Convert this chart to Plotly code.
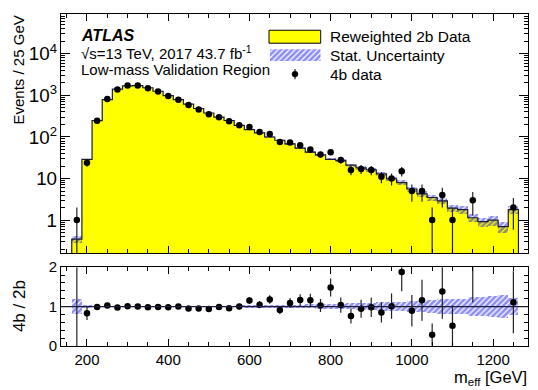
import numpy as np
import plotly.graph_objects as go

# m_eff bins (GeV), 25 GeV wide
bin_centers = [175, 200, 225, 250, 275, 300, 325, 350, 375, 400, 425, 450, 475, 500,
               525, 550, 575, 600, 625, 650, 675, 700, 725, 750, 775, 800, 825, 850,
               875, 900, 925, 950, 975, 1000, 1025, 1050, 1075, 1100, 1125, 1150, 1175,
               1200, 1225, 1250]
bin_width = 25

# observed 4b events per bin
data_4b = [1, 24, 245, 819, 1380, 1720, 1720, 1495, 1247, 972, 790, 587, 460, 354,
           297, 239, 191, 174, 132, 118, 76, 74, 63, 50, 38, 43, 28, 16,
           17, 16, 11, 10, 15, 5, 5, 1, 4, 1, 0, 3, 0,
           0, 0, 2]

# reweighted 2b prediction per bin
pred_2b = [0.35, 29, 247, 795, 1414, 1703, 1720, 1526, 1260, 992, 790, 618, 484, 377,
           300, 249, 191, 151, 126, 100, 83.5, 68, 54, 43, 37, 29, 27, 21,
           18, 16.3, 12.9, 9.9, 8.0, 5.6, 4.3, 3.5, 2.9, 1.95, 1.78, 1.14, 0.92,
           1.0, 0.70, 1.8]

# relative statistical uncertainty of the prediction
stat_rel = [0.20, 0.04, 0.02, 0.012, 0.010, 0.009, 0.009, 0.010, 0.011, 0.012, 0.013,
            0.015, 0.016, 0.018, 0.020, 0.022, 0.024, 0.027, 0.030, 0.033, 0.036,
            0.040, 0.045, 0.050, 0.055, 0.060, 0.065, 0.075, 0.085, 0.095, 0.105,
            0.115, 0.125, 0.14, 0.15, 0.16, 0.18, 0.19, 0.20, 0.23, 0.25, 0.27,
            0.30, 0.22]

x_range = [136, 1286]
logy_range = [-0.796, 4.958]
ratio_range = [0, 2]

FONT = "Liberation Sans, Arial, Helvetica, sans-serif"
YELLOW = "#ffff00"
HATCH = "#1e1ee6"
OUTLINE = "#1c1c3a"
BLACK = "#000000"

c = np.array(bin_centers, float)
d = np.array(data_4b, float)
p = np.array(pred_2b, float)
r = np.array(stat_rel, float)
lo_edges = c - bin_width / 2.0
hi_edge = c[-1] + bin_width / 2.0
floor = 10 ** (logy_range[0] - 2)

pattern = dict(shape="/", fgcolor=HATCH, bgcolor="rgba(0,0,0,0)", size=4,
               solidity=0.7, fillmode="overlay")

fig = go.Figure()

# ---------- upper panel ----------
fig.add_trace(go.Bar(x=c, y=p, width=bin_width, xaxis="x", yaxis="y",
                     marker=dict(color=YELLOW, line=dict(width=0)),
                     showlegend=False, hoverinfo="skip"))

fig.add_trace(go.Bar(x=c, y=2 * p * r, base=p * (1 - r), width=bin_width,
                     xaxis="x", yaxis="y",
                     marker=dict(color="rgba(0,0,0,0)", line=dict(width=0),
                                 pattern=pattern),
                     showlegend=False, hoverinfo="skip"))

step_x = [lo_edges[0]] + list(lo_edges) + [hi_edge, hi_edge]
step_y = [floor] + list(p) + [p[-1], floor]
fig.add_trace(go.Scatter(x=step_x, y=step_y, mode="lines", line_shape="hv",
                         line=dict(color=OUTLINE, width=1.2),
                         xaxis="x", yaxis="y", showlegend=False, hoverinfo="skip"))

has = d > 0
err = np.sqrt(d)
ex, ey = [], []
for xi, di, ei in zip(c[has], d[has], err[has]):
    ex += [xi, xi, None]
    ey += [max(di - ei, floor), di + ei, None]
fig.add_trace(go.Scatter(x=ex, y=ey, mode="lines", line=dict(color="#222222", width=1.2),
                         xaxis="x", yaxis="y", showlegend=False, hoverinfo="skip"))
fig.add_trace(go.Scatter(x=c[has], y=d[has], mode="markers",
                         marker=dict(color=BLACK, size=6.5),
                         xaxis="x", yaxis="y", showlegend=False))

# ---------- ratio panel ----------
fig.add_trace(go.Bar(x=c, y=2 * r, base=1 - r, width=bin_width, xaxis="x2", yaxis="y2",
                     marker=dict(color="rgba(0,0,0,0)", line=dict(width=0),
                                 pattern=pattern),
                     showlegend=False, hoverinfo="skip"))

ratio = d / p
rerr = err / p
rx, ry = [], []
for xi, ri, ei in zip(c[has], ratio[has], rerr[has]):
    rx += [xi, xi, None]
    ry += [ri - ei, ri + ei, None]
fig.add_trace(go.Scatter(x=rx, y=ry, mode="lines", line=dict(color="#222222", width=1.2),
                         xaxis="x2", yaxis="y2", showlegend=False, hoverinfo="skip"))
fig.add_trace(go.Scatter(x=c[has], y=ratio[has], mode="markers", cliponaxis=True,
                         marker=dict(color=BLACK, size=6.5),
                         xaxis="x2", yaxis="y2", showlegend=False))

# ---------- legend swatch (hatched box) ----------
fig.add_trace(go.Bar(x=[0.5], y=[1], width=1, xaxis="x3", yaxis="y3",
                     marker=dict(color="rgba(0,0,0,0)", line=dict(width=0),
                                 pattern=pattern),
                     showlegend=False, hoverinfo="skip"))

# pixel helpers for the 538x390 canvas
W, H = 538, 390
ML, MR, MT, MB = 61, 10, 5, 44
PW, PH = W - ML - MR, H - MT - MB


def px(xp):
    return (xp - ML) / PW


def py(yp):
    return (H - MB - yp) / PH


tickfont = dict(family=FONT, size=15, color=BLACK)
common_x = dict(range=x_range, ticks="inside", ticklen=7, tickwidth=1, tickcolor=BLACK,
                tick0=0, dtick=200, showline=True, linecolor=BLACK, linewidth=1,
                mirror="allticks", showgrid=False, zeroline=False,
                minor=dict(ticks="inside", ticklen=4, tickcolor=BLACK, dtick=50, tick0=0,
                           showgrid=False))

fig.update_layout(
    width=W, height=H, margin=dict(l=ML, r=MR, t=MT, b=MB),
    paper_bgcolor="white", plot_bgcolor="white",
    barmode="overlay", bargap=0, showlegend=False,
    font=dict(family=FONT, size=15, color=BLACK),
    xaxis=dict(domain=[0, 1], anchor="y", showticklabels=False, **common_x),
    yaxis=dict(domain=[py(250.7), 1], anchor="x", type="log", range=logy_range,
               dtick=1, exponentformat="power", tickfont=tickfont,
               ticks="inside", ticklen=9, tickwidth=1, tickcolor=BLACK,
               showline=True, linecolor=BLACK, linewidth=1, mirror="allticks",
               showgrid=False, zeroline=False,
               minor=dict(ticks="inside", ticklen=4, tickcolor=BLACK, dtick="D1",
                          showgrid=False)),
    xaxis2=dict(domain=[0, 1], anchor="y2", matches="x", tickfont=tickfont,
                ticklabelstandoff=0, **common_x),
    yaxis2=dict(domain=[0, py(265)], anchor="x2", range=ratio_range, tick0=0, dtick=1,
                tickfont=tickfont, ticks="inside", ticklen=9, tickwidth=1,
                tickcolor=BLACK, showline=True, linecolor=BLACK, linewidth=1,
                mirror="allticks", showgrid=False, zeroline=False,
                minor=dict(ticks="inside", ticklen=4, tickcolor=BLACK, dtick=0.2,
                           tick0=0, showgrid=False)),
    xaxis3=dict(domain=[px(270), px(320.5)], anchor="y3", range=[0, 1], visible=False,
                fixedrange=True),
    yaxis3=dict(domain=[py(53.5), py(41.3)], anchor="x3", range=[0, 1], visible=False,
                fixedrange=True),
)

# unity line in the ratio panel
fig.add_shape(type="line", xref="x2 domain", yref="y2", x0=0, x1=1, y0=1, y1=1,
              line=dict(color=OUTLINE, width=1.2))

# legend swatches
fig.add_shape(type="rect", xref="paper", yref="paper",
              x0=px(269), x1=px(320.7), y0=py(35), y1=py(21.7),
              fillcolor=YELLOW, line=dict(color=BLACK, width=1))
fig.add_shape(type="line", xref="paper", yref="paper",
              x0=px(295), x1=px(295), y0=py(72), y1=py(61.5),
              line=dict(color="#222222", width=1.2))
fig.add_shape(type="circle", xref="paper", yref="paper",
              x0=px(292), x1=px(298), y0=py(69.7), y1=py(63.7),
              fillcolor=BLACK, line=dict(color=BLACK, width=0.5))

ann = []


def text(t, x, y, size=15, xanchor="left", yanchor="middle", angle=0, pad=1):
    ann.append(dict(text=t, x=x, y=y, xref="paper", yref="paper", showarrow=False,
                    xanchor=xanchor, yanchor=yanchor, textangle=angle, borderpad=pad,
                    font=dict(family=FONT, size=size, color=BLACK)))


text("<b><i>ATLAS</i></b>", px(79), py(27), size=16)
text("√s=13 TeV, 2017 43.7 fb<sup>-1</sup>", px(79), py(44.5))
text("Low-mass Validation Region", px(79), py(62.5))
text("Reweighted 2b Data", px(328), py(28), size=15.5)
text("Stat. Uncertainty", px(328), py(47.5), size=15.5)
text("4b data", px(328), py(66.7), size=15.5)
text("Events / 25 GeV", px(18), 1, size=15, xanchor="center", yanchor="top", angle=-90)
text("4b / 2b", px(19), py(305), size=17, xanchor="center", yanchor="middle", angle=-90)
text("m<sub>eff</sub> [GeV]", 1, py(390), size=16.5, xanchor="right", yanchor="bottom",
     pad=0)
fig.update_layout(annotations=ann)

fig.write_html("out.html")
